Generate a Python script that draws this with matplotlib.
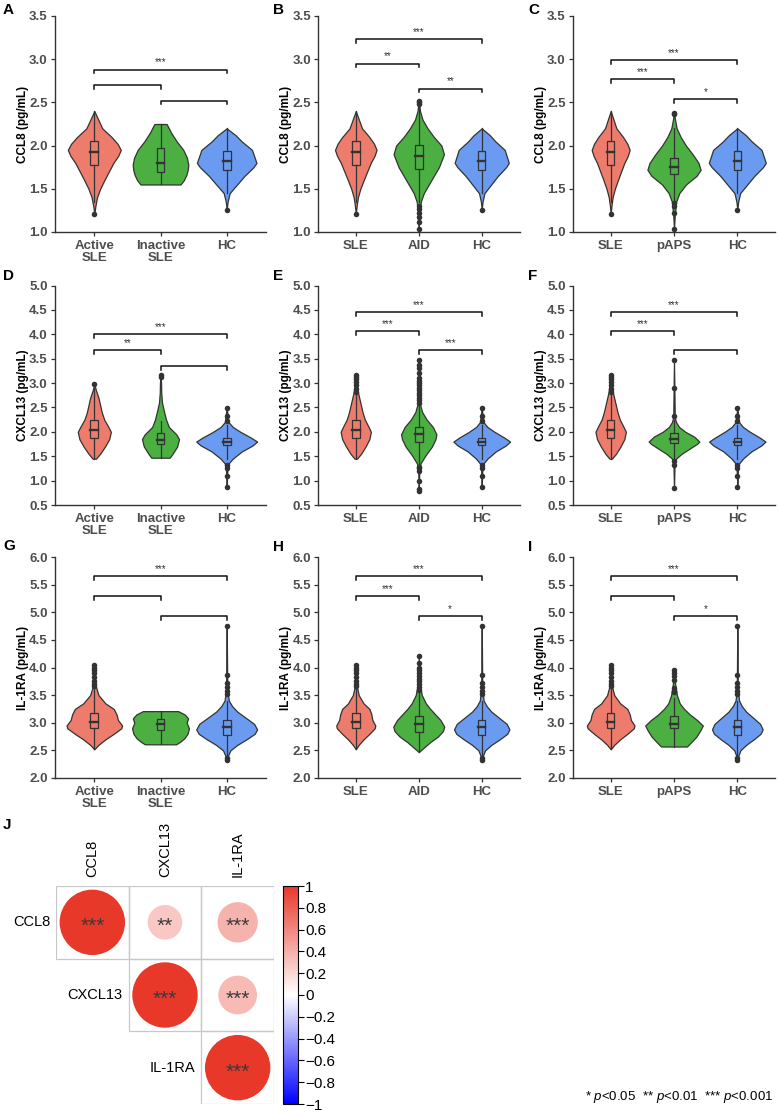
"""Violin panels (A-I) + correlation circle matrix (J)."""

import matplotlib

matplotlib.use("Agg")
import matplotlib.pyplot as plt
import numpy as np
from matplotlib.cm import ScalarMappable
from matplotlib.colors import LinearSegmentedColormap, Normalize
from matplotlib.patches import Circle, Rectangle

plt.rcParams["font.family"] = ["Liberation Sans", "DejaVu Sans"]
plt.rcParams["mathtext.fontset"] = "custom"
plt.rcParams["mathtext.rm"] = "Liberation Sans"
plt.rcParams["mathtext.it"] = "Liberation Sans:italic"

W, H = 778, 1113

# ---- data: violin outline (y, relative half width), box = [lo, q1, med, q3, hi], outliers ----
ccl8_sle = dict(
    y=[1.21, 1.30, 1.40, 1.50, 1.60, 1.70, 1.80, 1.88, 1.95, 2.02, 2.10, 2.20, 2.30, 2.40],
    w=[0, 0.04, 0.10, 0.22, 0.38, 0.55, 0.72, 0.90, 1.0, 0.88, 0.65, 0.30, 0.15, 0],
    box=[1.35, 1.77, 1.93, 2.05, 2.40], out=[1.21])
ccl8_inactive = dict(
    y=[1.55, 1.60, 1.66, 1.72, 1.78, 1.86, 1.95, 2.05, 2.15, 2.25],
    w=[0.72, 0.84, 0.93, 0.98, 1.0, 0.95, 0.82, 0.58, 0.38, 0.22],
    box=[1.55, 1.70, 1.80, 1.97, 2.25], out=[])
ccl8_hc = dict(
    y=[1.26, 1.35, 1.45, 1.55, 1.65, 1.75, 1.80, 1.88, 1.95, 2.05, 2.12, 2.20],
    w=[0, 0.03, 0.10, 0.35, 0.60, 0.90, 1.0, 0.92, 0.85, 0.50, 0.30, 0],
    box=[1.45, 1.72, 1.82, 1.94, 2.20], out=[1.26])
ccl8_aid = dict(
    y=[1.03, 1.20, 1.35, 1.45, 1.55, 1.65, 1.75, 1.90, 2.00, 2.10, 2.20, 2.30, 2.40, 2.52],
    w=[0, 0.02, 0.08, 0.20, 0.40, 0.60, 0.80, 1.0, 0.90, 0.60, 0.35, 0.15, 0.05, 0],
    box=[1.35, 1.73, 1.88, 2.01, 2.45], out=[1.03, 1.12, 1.17, 1.22, 1.27, 1.30, 2.48, 2.50, 2.52])
ccl8_paps = dict(
    y=[1.04, 1.20, 1.35, 1.45, 1.55, 1.65, 1.72, 1.80, 1.90, 2.00, 2.10, 2.20, 2.30, 2.38],
    w=[0, 0.03, 0.08, 0.20, 0.45, 0.85, 1.0, 0.92, 0.70, 0.45, 0.25, 0.10, 0.04, 0],
    box=[1.35, 1.67, 1.75, 1.86, 2.20], out=[1.04, 1.22, 1.30, 1.33, 2.36, 2.38])

cxcl13_active = dict(
    y=[1.45, 1.55, 1.70, 1.85, 2.00, 2.10, 2.25, 2.40, 2.55, 2.70, 2.85, 2.98],
    w=[0.10, 0.35, 0.65, 0.90, 1.0, 0.85, 0.60, 0.45, 0.35, 0.25, 0.10, 0],
    box=[1.45, 1.88, 2.03, 2.25, 2.90], out=[2.98])
cxcl13_inactive = dict(
    y=[1.47, 1.55, 1.70, 1.85, 1.95, 2.10, 2.25, 2.40, 2.60, 2.80, 3.00, 3.16],
    w=[0.50, 0.65, 0.90, 1.0, 0.85, 0.45, 0.30, 0.20, 0.08, 0.04, 0.03, 0],
    box=[1.47, 1.75, 1.84, 1.98, 2.22], out=[3.13, 3.16])
cxcl13_hc = dict(
    y=[0.87, 1.20, 1.35, 1.45, 1.60, 1.72, 1.80, 1.88, 2.00, 2.10, 2.20, 2.49],
    w=[0, 0.02, 0.06, 0.20, 0.50, 0.85, 1.0, 0.80, 0.45, 0.20, 0.06, 0],
    box=[1.45, 1.72, 1.79, 1.88, 2.15], out=[0.87, 1.10, 1.25, 1.33, 2.22, 2.32, 2.49])
cxcl13_sle = dict(
    y=[1.45, 1.55, 1.70, 1.85, 2.00, 2.10, 2.25, 2.40, 2.60, 2.80, 3.00, 3.17],
    w=[0.08, 0.35, 0.65, 0.90, 1.0, 0.85, 0.60, 0.45, 0.30, 0.15, 0.06, 0],
    box=[1.45, 1.87, 2.03, 2.24, 2.78], out=[2.82, 2.88, 2.95, 3.03, 3.08, 3.13, 3.17])
cxcl13_aid = dict(
    y=[0.78, 1.20, 1.35, 1.50, 1.70, 1.85, 1.95, 2.10, 2.25, 2.40, 2.55, 3.00, 3.48],
    w=[0, 0.03, 0.10, 0.35, 0.75, 0.95, 1.0, 0.80, 0.45, 0.20, 0.08, 0.02, 0],
    box=[1.35, 1.80, 1.95, 2.10, 2.55],
    out=[0.79, 0.82, 1.00, 1.20, 1.25, 1.28, 2.60, 2.65, 2.70, 2.75, 2.80, 2.85, 2.90,
         2.95, 3.00, 3.05, 3.10, 3.20, 3.30, 3.38, 3.48])
cxcl13_paps = dict(
    y=[0.84, 1.30, 1.45, 1.55, 1.65, 1.75, 1.80, 1.90, 2.00, 2.10, 2.20, 2.30, 3.47],
    w=[0, 0.02, 0.08, 0.30, 0.60, 0.90, 1.0, 0.80, 0.45, 0.20, 0.08, 0.03, 0],
    box=[1.40, 1.77, 1.85, 1.97, 2.25], out=[0.84, 1.33, 1.40, 2.32, 2.90, 3.47])

il1ra_sle = dict(
    y=[2.52, 2.60, 2.70, 2.80, 2.90, 2.95, 3.05, 3.15, 3.25, 3.35, 3.50, 3.65, 3.80, 4.05],
    w=[0, 0.15, 0.40, 0.70, 0.97, 1.0, 0.85, 0.80, 0.70, 0.40, 0.15, 0.06, 0.03, 0],
    box=[2.52, 2.90, 3.01, 3.18, 3.62], out=[3.66, 3.70, 3.75, 3.82, 3.90, 3.95, 4.00, 4.05])
il1ra_inactive = dict(
    y=[2.61, 2.66, 2.72, 2.80, 2.90, 3.00, 3.08, 3.15, 3.21],
    w=[0.55, 0.70, 0.84, 0.95, 1.0, 0.92, 0.97, 0.85, 0.62],
    box=[2.61, 2.87, 2.97, 3.07, 3.21], out=[])
il1ra_hc = dict(
    y=[2.33, 2.40, 2.50, 2.60, 2.70, 2.80, 2.88, 2.98, 3.10, 3.20, 3.30, 3.40, 3.60, 4.75],
    w=[0, 0.04, 0.12, 0.35, 0.65, 0.92, 1.0, 0.90, 0.60, 0.35, 0.18, 0.07, 0.02, 0],
    box=[2.40, 2.78, 2.92, 3.05, 3.40], out=[2.33, 2.36, 3.52, 3.58, 3.65, 3.72, 3.87, 4.75])
il1ra_aid = dict(
    y=[2.47, 2.55, 2.65, 2.75, 2.85, 2.93, 3.05, 3.15, 3.25, 3.35, 3.50, 3.70, 4.20],
    w=[0, 0.20, 0.45, 0.75, 0.95, 1.0, 0.85, 0.65, 0.45, 0.28, 0.12, 0.04, 0],
    box=[2.47, 2.83, 2.97, 3.12, 3.55],
    out=[3.60, 3.65, 3.70, 3.75, 3.80, 3.85, 3.90, 3.95, 4.00, 4.08, 4.20])
il1ra_paps = dict(
    y=[2.57, 2.65, 2.75, 2.85, 2.95, 3.05, 3.15, 3.25, 3.35, 3.50, 3.70, 3.97],
    w=[0.45, 0.60, 0.78, 0.90, 1.0, 0.80, 0.55, 0.35, 0.20, 0.10, 0.04, 0],
    box=[2.57, 2.90, 2.98, 3.13, 3.45], out=[3.55, 3.58, 3.62, 3.78, 3.85, 3.90, 3.95])

LABELS_ACTIVE = ["Active\nSLE", "Inactive\nSLE", "HC"]
LABELS_AID = ["SLE", "AID", "HC"]
LABELS_PAPS = ["SLE", "pAPS", "HC"]

YLIM = {"CCL8": (1.0, 3.5), "CXCL13": (0.5, 5.0), "IL-1RA": (2.0, 6.0)}

# (letter, marker, x labels, groups, max half widths, brackets (i, j, y, label))
PANELS = [
    ("A", "CCL8", LABELS_ACTIVE, [ccl8_sle, ccl8_inactive, ccl8_hc], [0.40, 0.42, 0.45],
     [(1, 2, 2.70, ""), (2, 3, 2.52, ""), (1, 3, 2.88, "***")]),
    ("B", "CCL8", LABELS_AID, [ccl8_sle, ccl8_aid, ccl8_hc], [0.33, 0.40, 0.43],
     [(1, 2, 2.95, "**"), (2, 3, 2.66, "**"), (1, 3, 3.23, "***")]),
    ("C", "CCL8", LABELS_PAPS, [ccl8_sle, ccl8_paps, ccl8_hc], [0.30, 0.42, 0.45],
     [(1, 2, 2.77, "***"), (2, 3, 2.54, "*"), (1, 3, 2.99, "***")]),
    ("D", "CXCL13", LABELS_ACTIVE, [cxcl13_active, cxcl13_inactive, cxcl13_hc], [0.25, 0.28, 0.46],
     [(1, 2, 3.68, "**"), (2, 3, 3.34, ""), (1, 3, 4.01, "***")]),
    ("E", "CXCL13", LABELS_AID, [cxcl13_sle, cxcl13_aid, cxcl13_hc], [0.24, 0.28, 0.45],
     [(1, 2, 4.06, "***"), (2, 3, 3.67, "***"), (1, 3, 4.45, "***")]),
    ("F", "CXCL13", LABELS_PAPS, [cxcl13_sle, cxcl13_paps, cxcl13_hc], [0.24, 0.40, 0.445],
     [(1, 2, 4.06, "***"), (2, 3, 3.67, ""), (1, 3, 4.45, "***")]),
    ("G", "IL-1RA", LABELS_ACTIVE, [il1ra_sle, il1ra_inactive, il1ra_hc], [0.42, 0.43, 0.46],
     [(1, 2, 5.29, ""), (2, 3, 4.93, ""), (1, 3, 5.65, "***")]),
    ("H", "IL-1RA", LABELS_AID, [il1ra_sle, il1ra_aid, il1ra_hc], [0.31, 0.405, 0.44],
     [(1, 2, 5.29, "***"), (2, 3, 4.93, "*"), (1, 3, 5.65, "***")]),
    ("I", "IL-1RA", LABELS_PAPS, [il1ra_sle, il1ra_paps, il1ra_hc], [0.376, 0.455, 0.40],
     [(1, 2, 5.29, ""), (2, 3, 4.93, "*"), (1, 3, 5.65, "***")]),
]

# correlation matrix (upper triangle incl. diagonal)
CORR_NAMES = ["CCL8", "CXCL13", "IL-1RA"]
CORR_R = [[1.0, 0.28, 0.38],
          [None, 1.0, 0.35],
          [None, None, 1.0]]
CORR_STARS = [["***", "**", "***"],
              [None, "***", "***"],
              [None, None, "***"]]
CBAR_TICKS = [1, 0.8, 0.6, 0.4, 0.2, 0, -0.2, -0.4, -0.6, -0.8, -1]
CBAR_LABELS = ["1", "0.8", "0.6", "0.4", "0.2", "0", "\u22120.2", "\u22120.4", "\u22120.6",
               "\u22120.8", "\u22121"]

FILLS = ["#EE7C6D", "#4CAF42", "#6A9BF1"]
EDGE = "#333333"
BOX_W = 0.12

# pixel layout
COL_X = [(54.6, 266.4), (318.0, 519.5), (572.7, 775.3)]
ROW_Y = [(16.0, 232.0), (285.5, 505.0), (557.0, 778.0)]
LETTER_XY = {"A": (3, 10), "B": (273, 10), "C": (528, 10),
             "D": (3, 276), "E": (273, 276), "F": (528, 276),
             "G": (3, 546), "H": (273, 547), "I": (528, 547), "J": (3, 825)}


def px_axes(fig, x0, y0, x1, y1):
    return fig.add_axes([x0 / W, 1 - y1 / H, (x1 - x0) / W, (y1 - y0) / H])


def draw_violin(ax, pos, g, hw, color):
    y = np.array(g["y"])
    w = np.array(g["w"]) * hw
    ax.fill_betweenx(y, pos - w, pos + w, facecolor=color, edgecolor=EDGE,
                     linewidth=0.9, zorder=2)
    lo, q1, med, q3, hi = g["box"]
    ax.plot([pos, pos], [lo, q1], color=EDGE, lw=0.9, zorder=3)
    ax.plot([pos, pos], [q3, hi], color=EDGE, lw=0.9, zorder=3)
    ax.add_patch(Rectangle((pos - BOX_W / 2, q1), BOX_W, q3 - q1, facecolor="none",
                           edgecolor=EDGE, lw=0.9, zorder=3))
    ax.plot([pos - BOX_W / 2, pos + BOX_W / 2], [med, med], color=EDGE, lw=1.7, zorder=3)
    if g["out"]:
        ax.scatter([pos] * len(g["out"]), g["out"], s=16, color=EDGE, linewidths=0, zorder=4)


def bracket(ax, i, j, y, label, tick):
    ax.plot([i, i, j, j], [y - tick, y, y, y - tick], color="#111111", lw=1.1, zorder=3)
    if label:
        ax.annotate(label, ((i + j) / 2, y), xytext=(0, 1.5), textcoords="offset points",
                    ha="center", va="bottom", fontsize=7, color=EDGE)


fig = plt.figure(figsize=(W / 100, H / 100), dpi=100)

for k, (letter, marker, xlabels, groups, widths, brackets) in enumerate(PANELS):
    r, c = divmod(k, 3)
    x0, x1 = COL_X[c]
    y0, y1 = ROW_Y[r]
    ax = px_axes(fig, x0, y0, x1, y1)
    lo, hi = YLIM[marker]
    for pos, (g, hw, col) in enumerate(zip(groups, widths, FILLS), start=1):
        draw_violin(ax, pos, g, hw, col)
    tick = (hi - lo) * 0.017
    for i, j, y, lab in brackets:
        bracket(ax, i, j, y, lab, tick)
    ax.set_xlim(0.4, 3.6)
    ax.set_ylim(lo, hi)
    ax.set_yticks(np.arange(lo, hi + 0.01, 0.5))
    ax.set_yticklabels([f"{v:.1f}" for v in np.arange(lo, hi + 0.01, 0.5)])
    ax.set_xticks([1, 2, 3])
    ax.set_xticklabels(xlabels, linespacing=0.95)
    for s in ("top", "right"):
        ax.spines[s].set_visible(False)
    for s in ("left", "bottom"):
        ax.spines[s].set_color(EDGE)
        ax.spines[s].set_linewidth(1.0)
    ax.tick_params(length=3, width=0.9, color=EDGE, labelcolor="#4D4D4D", pad=2)
    ax.tick_params(axis="x", pad=3)
    for t in ax.get_yticklabels():
        t.set_fontsize(9.5)
        t.set_fontweight("bold")
    for t in ax.get_xticklabels():
        t.set_fontsize(9.5)
        t.set_fontweight("bold")
    ax.set_ylabel(f"{marker} (pg/mL)", fontsize=8.5, fontweight="bold", color="black")
    ax.yaxis.set_label_coords(-26 / (x1 - x0), 0.5)
    lx, ly = LETTER_XY[letter]
    fig.text(lx / W, 1 - ly / H, letter, fontsize=11, fontweight="bold", va="center", ha="left")

# ---- J: correlation circles ----
lx, ly = LETTER_XY["J"]
fig.text(lx / W, 1 - ly / H, "J", fontsize=11, fontweight="bold", va="center", ha="left")

cmap = LinearSegmentedColormap.from_list("bwr_corr", ["#0000FF", "#FFFFFF", "#E8382A"])
norm = Normalize(-1, 1)

axc = px_axes(fig, 56, 886, 274, 1104)
axc.set_xlim(0, 3)
axc.set_ylim(3, 0)
axc.axis("off")
n = len(CORR_NAMES)
for i in range(n):
    for j in range(i, n):
        axc.add_patch(Rectangle((j, i), 1, 1, fill=False, edgecolor="#C8C8C8", lw=0.9))
        rv = CORR_R[i][j]
        axc.add_patch(Circle((j + 0.5, i + 0.5), 0.45 * np.sqrt(abs(rv)),
                             facecolor=cmap(norm(rv)), edgecolor="none"))
        axc.text(j + 0.5, i + 0.56, CORR_STARS[i][j], ha="center", va="center",
                 fontsize=15, color="#3A3A3A")
    axc.text(i - 0.08, i + 0.5, CORR_NAMES[i], ha="right", va="center", fontsize=10.5)
    axc.text(i + 0.5, -0.12, CORR_NAMES[i], ha="center", va="bottom", rotation=90,
             fontsize=10.5)

cax = px_axes(fig, 283, 886, 298, 1104)
cb = fig.colorbar(ScalarMappable(norm=norm, cmap=cmap), cax=cax, ticks=CBAR_TICKS)
cb.ax.set_yticklabels(CBAR_LABELS)
cb.outline.set_edgecolor("black")
cb.outline.set_linewidth(0.8)
cb.ax.tick_params(length=4, width=0.8, labelsize=11, pad=1)

fig.text(773 / W, 1 - 1097 / H, r"* $p$<0.05  ** $p$<0.01  *** $p$<0.001",
         ha="right", va="center", fontsize=9.5)

fig.savefig("out.png", dpi=100)
